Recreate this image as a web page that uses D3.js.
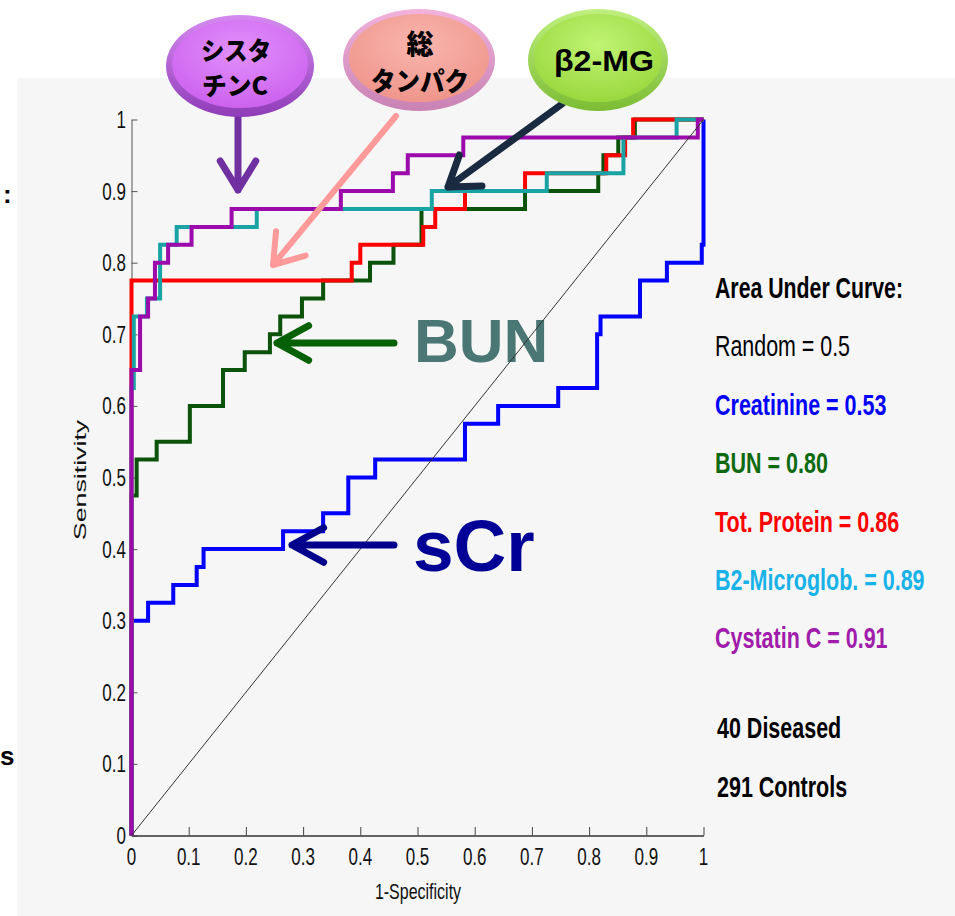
<!DOCTYPE html>
<html>
<head>
<meta charset="utf-8">
<script src="https://cdn.jsdelivr.net/npm/d3@7"></script>
<style>
body { margin: 0; background: #fff; }
svg { display: block; }
</style>
</head>
<body>
<svg id="chart" width="955" height="916"></svg>
<script>
// ROC data (step corners: fpr where sensitivity rises, new sensitivity)
const creatinineFpr = [0, 0, 0.029, 0.073, 0.114, 0.126, 0.265, 0.335, 0.379, 0.426, 0.583, 0.641, 0.746, 0.814, 0.820, 0.889, 0.936, 0.997, 1];
const creatinineTpr = [0, 0.30, 0.325, 0.35, 0.375, 0.40, 0.425, 0.45, 0.50, 0.525, 0.575, 0.60, 0.625, 0.70, 0.725, 0.775, 0.80, 0.825, 1];

const bunFpr = [0, 0, 0.009, 0.044, 0.102, 0.160, 0.198, 0.242, 0.260, 0.298, 0.335, 0.417, 0.458, 0.507, 0.688, 0.816, 0.825, 0.851, 0.880, 1];
const bunTpr = [0, 0.475, 0.525, 0.55, 0.60, 0.65, 0.675, 0.70, 0.725, 0.75, 0.775, 0.80, 0.825, 0.875, 0.90, 0.925, 0.95, 0.975, 1, 1];

const proteinFpr = [0, 0, 0.385, 0.400, 0.510, 0.531, 0.583, 0.688, 0.830, 0.863, 0.877, 1];
const proteinTpr = [0, 0.775, 0.80, 0.825, 0.85, 0.875, 0.90, 0.925, 0.95, 0.975, 1, 1];

const b2mgFpr = [0, 0, 0.004, 0.027, 0.050, 0.079, 0.219, 0.525, 0.726, 0.860, 0.953, 1];
const b2mgTpr = [0, 0.625, 0.725, 0.75, 0.825, 0.85, 0.875, 0.90, 0.925, 0.975, 1, 1];

const cystatinFpr = [0, 0, 0.015, 0.029, 0.041, 0.064, 0.105, 0.175, 0.366, 0.457, 0.483, 0.580, 0.990, 1];
const cystatinTpr = [0, 0.65, 0.725, 0.75, 0.80, 0.825, 0.85, 0.875, 0.90, 0.925, 0.95, 0.975, 1, 1];

const seriesNames = ["Creatinine", "BUN", "Tot. Protein", "B2-Microglob.", "Cystatin C"];
const aucValues = ["0.53", "0.80", "0.86", "0.89", "0.91"];
const randomAuc = "0.5";
const groupCounts = ["40 Diseased", "291 Controls"];

const tickValues = [0, 0.1, 0.2, 0.3, 0.4, 0.5, 0.6, 0.7, 0.8, 0.9, 1];
const tickLabels = ["0", "0.1", "0.2", "0.3", "0.4", "0.5", "0.6", "0.7", "0.8", "0.9", "1"];

const curveColors = ["#0000ff", "#0b520b", "#ff0000", "#1aa3a5", "#9b0aab"];
const legendColors = ["#0000ff", "#0e6a0e", "#ff0000", "#18b2e8", "#a11cab"];

const svg = d3.select("#chart");
const FONT = "'Liberation Sans', Arial, sans-serif";
const JP = "'Noto Sans CJK JP', 'Noto Sans CJK SC', sans-serif";
const SY = 1.4; // the original picture is stretched vertically

const x = d3.scaleLinear().domain([0, 1]).range([131.5, 703.5]);
const y = d3.scaleLinear().domain([0, 1]).range([835.5, 119.5]);

function stext(parent, px, py, str, o) {
    return parent.append("text")
        .attr("transform", `translate(${px},${py}) scale(1,${SY})${o.rotate ? " rotate(" + o.rotate + ")" : ""}`)
        .attr("font-family", o.family || FONT)
        .attr("font-size", o.size)
        .attr("font-weight", o.weight || "normal")
        .attr("fill", o.fill || "#000")
        .attr("text-anchor", o.anchor || "start")
        .attr("y", o.dy || 0)
        .text(str);
}

// slide background
svg.append("rect").attr("x", 17).attr("y", 78).attr("width", 938).attr("height", 838).attr("fill", "#f6f6f6");

// cut-off text from the slide's left column
svg.append("text").attr("x", 3).attr("y", 203).attr("font-family", FONT).attr("font-weight", "bold")
    .attr("font-size", 26).text(":");
svg.append("text").attr("x", 0).attr("y", 765).attr("font-family", FONT)
    .attr("font-weight", "bold").attr("font-size", 26).text("s");

// axes
const axisG = svg.append("g");
axisG.append("g")
    .attr("transform", `translate(${x(0)},0)`)
    .call(d3.axisLeft(y).tickValues(tickValues).tickSize(-6).tickSizeOuter(0).tickFormat(""))
    .call(g => g.selectAll("line,path").attr("stroke", "#555"));
axisG.append("g")
    .attr("transform", `translate(0,${y(0)})`)
    .call(d3.axisBottom(x).tickValues(tickValues).tickSize(-8.5).tickSizeOuter(0).tickFormat(""))
    .call(g => g.selectAll("line").attr("stroke", "#444"))
    .call(g => g.select("path").attr("stroke", "#333").attr("stroke-width", 1.6));

tickValues.forEach((v, i) => {
    stext(axisG, 126, y(v), tickLabels[i], { size: 17, anchor: "end", dy: 6, fill: "#111" });
    stext(axisG, x(v), 865, tickLabels[i], { size: 17, anchor: "middle", fill: "#111" });
});
stext(axisG, 418, 899, "1-Specificity", { size: 16, anchor: "middle", fill: "#111" });
stext(axisG, 86, 480, "Sensitivity", { size: 16, anchor: "middle", rotate: -90, fill: "#111" })
    .attr("textLength", 86).attr("lengthAdjust", "spacingAndGlyphs");

// ROC curves
const series = [
    d3.zip(creatinineFpr, creatinineTpr),
    d3.zip(bunFpr, bunTpr),
    d3.zip(proteinFpr, proteinTpr),
    d3.zip(b2mgFpr, b2mgTpr),
    d3.zip(cystatinFpr, cystatinTpr)
];
const line = d3.line().x(d => x(d[0])).y(d => y(d[1])).curve(d3.curveStepAfter);
svg.append("g").selectAll("path").data(series).join("path")
    .attr("d", line)
    .attr("fill", "none")
    .attr("stroke", (d, i) => curveColors[i])
    .attr("stroke-width", 4);

// slide annotations: BUN / sCr
svg.append("text").attr("x", 414).attr("y", 362).attr("font-family", FONT).attr("font-weight", "bold")
    .attr("font-size", 62).attr("fill", "#4a7674").text("BUN");
svg.append("text").attr("x", 413).attr("y", 571).attr("font-family", FONT).attr("font-weight", "bold")
    .attr("font-size", 73).attr("fill", "#000096").text("sCr");

// random line
svg.append("line")
    .attr("x1", x(0)).attr("y1", y(0)).attr("x2", x(1)).attr("y2", y(1))
    .attr("stroke", "#333").attr("stroke-width", 1);

// arrows
function arrow(x1, y1, x2, y2, wing, spread, color, w) {
    const a = Math.atan2(y2 - y1, x2 - x1);
    const p1 = [x2 - wing * Math.cos(a - spread), y2 - wing * Math.sin(a - spread)];
    const p2 = [x2 - wing * Math.cos(a + spread), y2 - wing * Math.sin(a + spread)];
    svg.append("path")
        .attr("d", `M${x1},${y1}L${x2},${y2}M${p1[0]},${p1[1]}L${x2},${y2}L${p2[0]},${p2[1]}`)
        .attr("fill", "none").attr("stroke", color).attr("stroke-width", w)
        .attr("stroke-linecap", "round").attr("stroke-linejoin", "round");
}
arrow(238, 116, 238, 190, 34, 0.55, "#7030a0", 7);
arrow(396, 116, 273, 265, 34, 0.6, "#ff9a9a", 6);
arrow(562, 104, 448, 187, 34, 0.6, "#1a2a40", 7);
arrow(394, 343, 277, 343, 36, 0.5, "#066006", 7);
arrow(394, 545, 292, 545, 36, 0.5, "#00008c", 7);

// bubbles
const defs = svg.append("defs");
function bubble(id, cx, cy, rx, ry, rimA, rimB, bodyA, bodyB) {
    const lg = defs.append("linearGradient").attr("id", "rim" + id).attr("x1", 0).attr("y1", 0).attr("x2", 0).attr("y2", 1);
    lg.append("stop").attr("offset", "0%").attr("stop-color", rimA);
    lg.append("stop").attr("offset", "100%").attr("stop-color", rimB);
    const rg = defs.append("radialGradient").attr("id", "body" + id).attr("cx", "50%").attr("cy", "35%").attr("r", "65%");
    rg.append("stop").attr("offset", "0%").attr("stop-color", bodyA);
    rg.append("stop").attr("offset", "100%").attr("stop-color", bodyB);
    svg.append("ellipse").attr("cx", cx).attr("cy", cy).attr("rx", rx).attr("ry", ry)
        .attr("fill", `url(#rim${id})`);
    svg.append("ellipse").attr("cx", cx).attr("cy", cy - 2).attr("rx", rx - 6).attr("ry", ry - 7)
        .attr("fill", `url(#body${id})`);
}
bubble("p", 240, 66, 74, 51, "#d68af0", "#8f3cb8", "#e290fc", "#cc62ee");
bubble("k", 419, 60, 76, 51, "#f2b2dc", "#c882b4", "#f8b6ae", "#ef958b");
bubble("g", 598, 60, 70, 51, "#c0f080", "#7cbc34", "#c0f474", "#9ad83e");

function btext(px, py, str, size, family, len) {
    const t = svg.append("text").attr("x", px).attr("y", py).attr("text-anchor", "middle")
        .attr("font-family", family).attr("font-weight", 900).attr("font-size", size).attr("fill", "#000")
        .text(str);
    if (len) t.attr("textLength", len).attr("lengthAdjust", "spacingAndGlyphs");
}
btext(236, 60, "シスタ", 25, JP, 70);
btext(235, 95, "チンC", 25, JP, 66);
btext(420, 54, "総", 27, JP);
btext(420, 91, "タンパク", 26, JP, 98);
btext(604, 71, "β2-MG", 29, FONT, 100);

// legend
const legend = svg.append("g");
const legendLines = [
    { t: "Area Under Curve:", c: "#000", w: "bold", len: 188 },
    { t: `Random = ${randomAuc}`, c: "#000", w: "normal", len: 135 }
].concat(seriesNames.map((n, i) => ({ t: `${n} = ${aucValues[i]}`, c: legendColors[i], w: "bold" })));
legendLines.forEach((d, i) => {
    const t = stext(legend, 715, 298 + i * 58.4, d.t, { size: 21.5, weight: d.w, fill: d.c });
    if (d.len) t.attr("textLength", d.len).attr("lengthAdjust", "spacingAndGlyphs");
});
groupCounts.forEach((d, i) => {
    stext(legend, 717, 738 + i * 59, d, { size: 21.5, weight: "bold", fill: "#000" });
});
</script>
</body>
</html>
